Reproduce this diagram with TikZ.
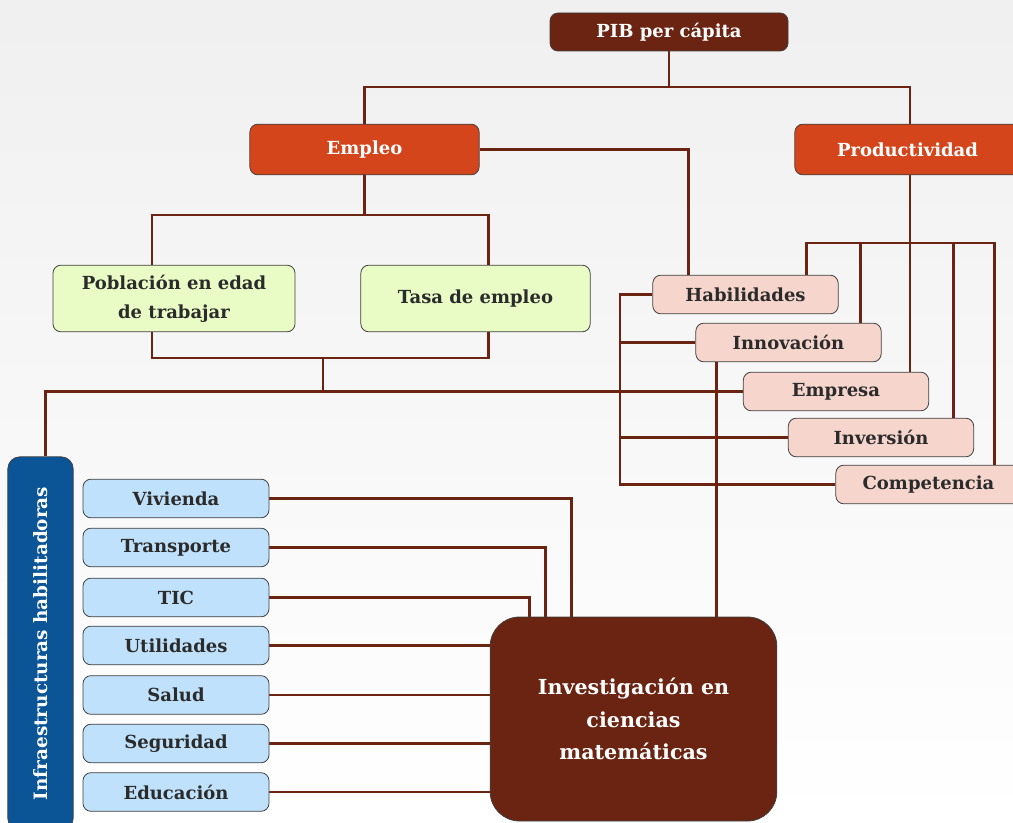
\documentclass[tikz,border=0pt]{standalone}
\usepackage{fontspec}
\setmainfont{DejaVu Serif}
\usepackage{tikz}
\usetikzlibrary{backgrounds}
\definecolor{cafe}{HTML}{6A2411}
\definecolor{naranja}{HTML}{D5451B}
\definecolor{verde}{HTML}{E9FCC5}
\definecolor{rosa}{HTML}{F6D5CC}
\definecolor{celeste}{HTML}{BFE1FB}
\definecolor{azul}{HTML}{0B5496}
\definecolor{tinta}{HTML}{2B2B2B}

\begin{document}
\begin{tikzpicture}[x=0.75pt,y=-0.75pt,
  caja/.style={rounded corners=6pt,draw=black!75,line width=0.6pt,align=center,inner sep=0pt,
    font=\bfseries\fontsize{13.5}{21.75}\selectfont,text=tinta},
  oscura/.style={caja,fill=cafe,text=white},
  roja/.style={caja,fill=naranja,text=white,minimum height=38pt},
  hoja/.style={caja,fill=verde,minimum height=50pt},
  factor/.style={caja,fill=rosa,minimum width=139pt,minimum height=29pt},
  infra/.style={caja,fill=celeste,minimum width=139.5pt,minimum height=29pt},
  enlace/.style={draw=cafe,line width=2.2pt}]
\useasboundingbox (0,0) rectangle (1013,823);

\node[oscura,minimum width=178.5pt,minimum height=28.5pt] (pib) at (669,32) {PIB per cápita};
\node[roja,minimum width=172pt] (emp) at (364.5,149.5) {Empleo};
\node[roja,minimum width=169pt] (prod) at (907.5,149.5) {Productividad};
\node[hoja,minimum width=181.5pt] (pob) at (174,298.5) {Población en edad\\de trabajar};
\node[hoja,minimum width=172pt] (tasa) at (475.5,298.5) {Tasa de empleo};

\node[factor] (hab) at (745.5,294.5) {Habilidades};
\node[factor] (innov) at (788.5,342.5) {Innovación};
\node[factor] (empr) at (836,391.5) {Empresa};
\node[factor] (inv) at (881,437.5) {Inversión};
\node[factor] (comp) at (928.5,484.5) {Competencia};

\node[caja,fill=azul,text=white,rounded corners=9pt,minimum width=280pt,minimum height=49pt,
  rotate=90,font=\bfseries\fontsize{13.8}{15}\selectfont] (infra) at (40.5,643.5) {Infraestructuras habilitadoras};
\foreach \n/\t/\y in {viv/Vivienda/498.5,trans/Transporte/547.5,tic/TIC/597.5,util/Utilidades/645.5,
  sal/Salud/695,seg/Seguridad/743.5,edu/Educación/792}
  \node[infra] (\n) at (176,\y) {\t};

\node[oscura,rounded corners=22pt,minimum width=215pt,minimum height=153pt,
  font=\bfseries\fontsize{15.5}{24.4}\selectfont] (icm) at (633.5,719) {Investigación en\\ciencias\\matemáticas};

\begin{scope}[on background layer]
\shade[top color=black!6,bottom color=white] (0,0) rectangle (1013,823);
\coordinate (pb) at (669,87);
\coordinate (eb) at (364.5,215);
\coordinate (mj) at (323,358);
\coordinate (fb) at (910,243);
\coordinate (lb) at (620,0);
\draw[enlace] (pib.south) -- (pb);
\draw[enlace] (emp.north) |- (pb) -| (fb |- prod.north);
\draw[enlace] (emp.south) -- (eb);
\draw[enlace] ([xshift=-16.5pt]pob.north) |- (eb) -| ([xshift=9.4pt]tasa.north);
\draw[enlace] ([xshift=-16.5pt]pob.south) |- (mj) -| ([xshift=9.4pt]tasa.south);
\draw[enlace] (mj) -- (mj |- empr.west);
\draw[enlace] (empr.west) -| ([xshift=3.4pt]infra.east);
\draw[enlace] (emp.east) -| ([xshift=27pt]hab.north west);
\draw[enlace] (fb |- prod.south) -- (fb |- empr.north);
\draw[enlace] ([xshift=-24pt]hab.north east) |- ([xshift=-20pt]comp.north east |- fb) -- ([xshift=-20pt]comp.north east);
\draw[enlace] ([xshift=-15.75pt]innov.north east) -- ([xshift=-15.75pt]innov.north east |- fb);
\draw[enlace] ([xshift=-15.75pt]inv.north east) -- ([xshift=-15.75pt]inv.north east |- fb);
\draw[enlace] (hab.west) -| (lb |- comp.west) -- (comp.west);
\draw[enlace] (innov.west) -- (lb |- innov.west);
\draw[enlace] (inv.west) -- (lb |- inv.west);
\draw[enlace] ([xshift=15.75pt]innov.south west) -- ([xshift=15.75pt]innov.south west |- icm.center);
\draw[enlace] (viv.east) -| ([xshift=61.5pt]icm.north west) -- ([xshift=61.5pt]icm.west);
\draw[enlace] (trans.east) -| ([xshift=42pt]icm.north west) -- ([xshift=42pt]icm.west);
\draw[enlace] (tic.east) -| ([xshift=30pt]icm.north west) -- ([xshift=30pt]icm.west);
\foreach \n in {util,sal,seg,edu}
  \draw[enlace] (\n.east) -- (\n.east -| icm.center);
\end{scope}
\end{tikzpicture}
\end{document}
